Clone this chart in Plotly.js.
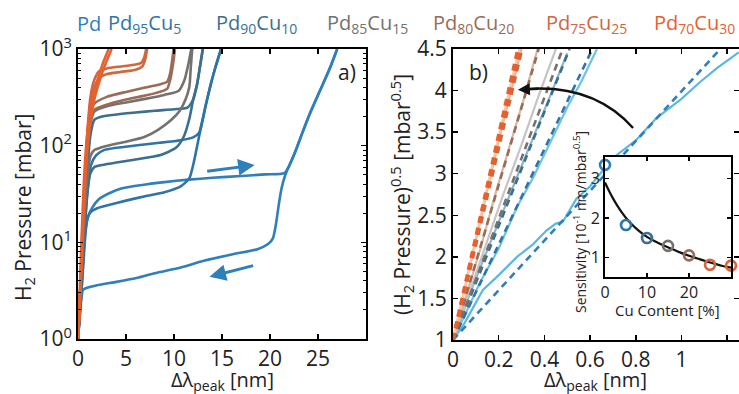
<!DOCTYPE html>
<html><head><meta charset="utf-8">
<script src="https://cdn.plot.ly/plotly-3.0.1.min.js"></script>
<style>html,body{margin:0;padding:0;background:#fff;}#chart{width:739px;height:394px;}</style>
</head><body><div id="chart"></div>
<script>
// ---------- DATA ----------
const names = ["Pd","Pd<sub>95</sub>Cu<sub>5</sub>","Pd<sub>90</sub>Cu<sub>10</sub>","Pd<sub>85</sub>Cu<sub>15</sub>","Pd<sub>80</sub>Cu<sub>20</sub>","Pd<sub>75</sub>Cu<sub>25</sub>","Pd<sub>70</sub>Cu<sub>30</sub>"];

// panel a : isotherms (x = Δλ nm, p = mbar)
const pdAbsX = [0,0.15,0.3,0.45,0.6,0.8,1.1,1.5,2.2,3.2,4.5,6.5,9,11.5,14,17,19.5,21.5,22.0,22.6,23.3,24.2,25.2,26.2,27.0];
const pdAbsP = [1,1.6,2.6,4.5,8,14,19,23,28,32,36,39,42,44.5,46.5,48.5,50.5,52,62,85,130,220,370,620,1000];
const pdDesX = [27.0,26.2,25.2,24.2,23.3,22.6,22.0,21.6,21.2,20.9,20.6,20.3,19.8,18.7,16,13,10.7,8,6.2,4,2,0.8,0.5,0.35,0.2,0.1,0];
const pdDesP = [1000,620,370,220,130,85,62,50,36,24,15,11,9.6,8.5,7.5,6.4,5.5,4.8,4.3,3.9,3.6,3.35,3.2,2.6,1.9,1.4,1];

const cu5AbsX = [0,0.15,0.3,0.5,0.7,0.95,1.35,1.9,2.7,4,6.2,8.5,10.7,12,12.6,12.9,13.3,13.8,14.3,14.9];
const cu5AbsP = [1,1.7,3,6,13,30,63,80,90,95,101,107,114,122,135,170,260,420,640,1000];
const cu5DesX = [14.9,14.3,13.8,13.3,12.9,12.5,12.1,11.6,10.7,9,7,5,3,2,1.35,1.0,0.8,0.6,0.4,0.2,0];
const cu5DesP = [1000,640,420,260,170,110,70,46,38,33,30,27,24,22.5,20.7,18,13,7,3.5,1.8,1];

const cu10AbsX = [0,0.15,0.3,0.5,0.75,1.0,1.3,1.7,2.5,4,6,8,10,11.4,12.0,12.4,12.7,13.0];
const cu10AbsP = [1,1.8,3.5,8,22,60,130,185,200,210,220,230,238,248,300,430,650,1000];
const cu10DesX = [13.0,12.7,12.4,12.0,11.6,11.0,10.2,8.6,6,4,2.5,1.7,1.3,1.0,0.7,0.45,0.25,0.1,0];
const cu10DesP = [1000,650,430,300,190,123,95,80,72,67,63,60,52,35,15,6,2.8,1.5,1];

const cu15AbsX = [0,0.15,0.3,0.5,0.75,1.0,1.3,1.7,3,5,7,9,10.5,11.1,11.5,11.8];
const cu15AbsP = [1,1.9,4,10,30,90,170,225,255,280,305,335,370,480,700,1000];
const cu15DesX = [11.9,11.75,11.6,11.2,10.6,9.7,8.3,6.9,5,3.5,2.3,1.7,1.3,1.0,0.7,0.45,0.25,0.1,0];
const cu15DesP = [1000,650,408,300,230,184,145,123,110,102,95,90,78,50,20,7,3,1.5,1];

const cu20AbsX = [0,0.15,0.3,0.5,0.75,1.0,1.3,1.7,3,5,7,8.5,9.3,9.6,9.8,9.95];
const cu20AbsP = [1,2,4.5,12,40,120,220,273,320,360,400,430,460,560,750,1000];
const cu20DesX = [10.1,9.9,9.6,9.3,8.5,7,5,3,1.7,1.3,1.0,0.75,0.5,0.3,0.15,0];
const cu20DesP = [1000,700,480,390,360,330,300,265,235,200,120,40,12,4.5,2,1];

const cu25AbsX = [0,0.15,0.3,0.5,0.75,1.0,1.3,1.7,2.2,3,4.5,6,6.6,6.9,7.1];
const cu25AbsP = [1,2,5,14,50,150,320,480,590,630,660,690,720,820,1000];
const cu25DesX = [7.2,7.0,6.7,6,4.5,3,2.2,1.7,1.3,1.0,0.75,0.5,0.3,0.15,0];
const cu25DesP = [1000,780,660,610,580,550,500,400,260,130,45,13,4.5,1.9,1];

const cu30AbsX = [0,0.12,0.25,0.4,0.6,0.85,1.15,1.5,1.9,2.3,2.7,3.2];
const cu30AbsP = [1,2,5,13,40,100,190,300,430,580,760,1000];
const cu30DesX = [3.5,3.0,2.5,2.1,1.7,1.3,1.0,0.7,0.45,0.3,0.15,0];
const cu30DesP = [1000,760,560,420,300,180,100,40,13,5,2,1];

// panel b : sqrt(P) vs Δλ  (solid = data, dashed = linear fit)
const bPdX   = [0,0.05,0.13,0.2,0.28,0.35,0.41,0.45,0.48,0.54,0.6,0.66,0.70,0.8,0.89,1.0,1.08,1.155,1.25];
const bPdY   = [1,1.2,1.6,1.78,2.0,2.15,2.32,2.40,2.42,2.70,2.85,3.05,3.19,3.4,3.67,3.9,4.1,4.27,4.46];
const bCu5X  = [0,0.06,0.12,0.2,0.28,0.35,0.42,0.5,0.56,0.63];
const bCu5Y  = [1,1.35,1.7,2.1,2.6,2.95,3.35,3.8,4.1,4.5];
const bCu10X = [0,0.08,0.16,0.25,0.33,0.42,0.5];
const bCu10Y = [1,1.6,2.15,2.75,3.3,3.9,4.45];
const bCu15X = [0,0.07,0.15,0.22,0.3,0.37,0.45];
const bCu15Y = [1,1.55,2.2,2.75,3.35,3.9,4.5];
const bCu20X = [0,0.06,0.12,0.19,0.25,0.31,0.37];
const bCu20Y = [1,1.55,2.1,2.8,3.35,3.9,4.5];
const bCu25X = [0,0.05,0.1,0.15,0.2,0.25,0.3];
const bCu25Y = [1,1.6,2.2,2.8,3.4,3.95,4.5];
const bCu30X = [0,0.05,0.1,0.15,0.2,0.25,0.29];
const bCu30Y = [1,1.62,2.25,2.85,3.45,4.05,4.5];
const fitTopX = [1.17,0.61,0.51,0.48,0.375,0.3,0.285];   // x where each fit reaches 4.5
const fitY = [1,4.5];

// inset
const cuContent = [0,5,10,15,20,25,30];
const sensitivity = [3.35,1.82,1.49,1.29,1.05,0.81,0.79];
const fitCuX = [0,1,2,3,4,5,6,8,10,12,14,16,18,20,22,24,26,28,30];
const fitCuY = [2.9,2.68,2.48,2.3,2.14,2.0,1.88,1.68,1.52,1.4,1.3,1.21,1.12,1.04,0.97,0.9,0.84,0.78,0.74];

// ---------- STYLE ----------
const cols = ["#2f7fba","#2e74a6","#3b6f8d","#75716e","#9a6b57","#d2663d","#e9602c"];
const light = ["#5cb8df","#6cc3e4","#8fb6c8","#c4c4c4","#d8b6a6","#f3b08e","#f8c7a8"];
const F = "Open Sans, Liberation Sans, sans-serif";
const W = 739, H = 394;
const fx = p => p / W, fy = p => 1 - p / H;

const traces = [];
const aSets = [[pdAbsX,pdAbsP,pdDesX,pdDesP],[cu5AbsX,cu5AbsP,cu5DesX,cu5DesP],[cu10AbsX,cu10AbsP,cu10DesX,cu10DesP],
  [cu15AbsX,cu15AbsP,cu15DesX,cu15DesP],[cu20AbsX,cu20AbsP,cu20DesX,cu20DesP],[cu25AbsX,cu25AbsP,cu25DesX,cu25DesP],[cu30AbsX,cu30AbsP,cu30DesX,cu30DesP]];
aSets.forEach((s,i)=>{
  traces.push({x:s[0],y:s[1],type:'scatter',mode:'lines',line:{color:cols[i],width:2.6,shape:'spline',smoothing:0.6},xaxis:'x',yaxis:'y'});
  traces.push({x:s[2],y:s[3],type:'scatter',mode:'lines',line:{color:cols[i],width:2.6,shape:'spline',smoothing:0.6},xaxis:'x',yaxis:'y'});
});
const bSets = [[bPdX,bPdY],[bCu5X,bCu5Y],[bCu10X,bCu10Y],[bCu15X,bCu15Y],[bCu20X,bCu20Y],[bCu25X,bCu25Y],[bCu30X,bCu30Y]];
bSets.forEach((s,i)=>{
  traces.push({x:s[0],y:s[1],type:'scatter',mode:'lines',line:{color:light[i],width:2.2},xaxis:'x2',yaxis:'y2'});
});
bSets.forEach((s,i)=>{
  traces.push({x:[0,fitTopX[i]],y:fitY,type:'scatter',mode:'lines',line:{color:cols[i],width:i>=5?4:2.6,dash:'7px,5px'},xaxis:'x2',yaxis:'y2'});
});
traces.push({x:fitCuX,y:fitCuY,type:'scatter',mode:'lines',line:{color:'#111',width:2.2,shape:'spline'},xaxis:'x3',yaxis:'y3'});
traces.push({x:cuContent,y:sensitivity,type:'scatter',mode:'markers',cliponaxis:false,
  marker:{symbol:'circle-open',size:10,color:cols,line:{width:2.6,color:cols}},xaxis:'x3',yaxis:'y3'});

const axBase = {showline:true,linecolor:'#000',linewidth:2,mirror:'ticks',ticks:'inside',ticklen:5,tickwidth:1.5,tickcolor:'#000',
  showgrid:false,zeroline:false,tickfont:{family:F,size:21,color:'#222'}};

const annotations = [];
const labX = [75,106,214,325,431,544,652];
names.forEach((n,i)=>annotations.push({xref:'paper',yref:'paper',x:fx(labX[i]),y:fy(24),xanchor:'left',yanchor:'middle',
  text:n,showarrow:false,font:{family:F,size:20,color:cols[i]}}));
function lab(x,y,text,size,angle){
  annotations.push({xref:'paper',yref:'paper',x:fx(x),y:fy(y),xanchor:'center',yanchor:'middle',text:text,textangle:angle||0,
    showarrow:false,font:{family:F,size:size,color:'#222'}});
}
lab(347,72,'a)',21);
lab(478,72,'b)',21);
lab(24,208,'H<sub>2</sub> Pressure [mbar]',21,-90);
lab(222,380,'Δλ<sub>peak</sub> [nm]',20);
lab(401,195,'(H<sub>2</sub> Pressure)<sup>0.5</sup> [mbar<sup>0.5</sup>]',21,-90);
lab(595,380,'Δλ<sub>peak</sub> [nm]',20);
lab(580,222,'Sensitivity [10<sup>-1</sup> nm/mbar<sup>0.5</sup>]',14,-90);
lab(667,310,'Cu Content [%]',15);
// arrows panel a (log axis -> log10 coordinates)
annotations.push({xref:'x',yref:'y',axref:'x',ayref:'y',x:18.4,y:Math.log10(63),ax:13.3,ay:Math.log10(54),text:'',showarrow:true,arrowhead:2,arrowsize:1.1,arrowwidth:3,arrowcolor:cols[0]});
annotations.push({xref:'x',yref:'y',axref:'x',ayref:'y',x:13.7,y:Math.log10(4.4),ax:18.4,ay:Math.log10(5.8),text:'',showarrow:true,arrowhead:2,arrowsize:1.1,arrowwidth:3,arrowcolor:cols[0]});
// curved arrow head panel b
annotations.push({xref:'x2',yref:'y2',x:0.284,y:4.01,ax:22,ay:-1,text:'',showarrow:true,arrowhead:2,arrowsize:1,arrowwidth:2.4,arrowcolor:'#111',standoff:0});

const shapes = [
  {type:'rect',xref:'x3',yref:'y3',x0:0,x1:30,y0:0.5,y1:3.55,fillcolor:'#fff',line:{width:0},layer:'below'},
  {type:'path',xref:'x2',yref:'y2',path:'M 0.788,3.55 Q 0.619,4.07 0.33,4.02',line:{color:'#111',width:2.4}}
];

const layout = {
  width:W,height:H,margin:{l:0,r:0,t:0,b:0},paper_bgcolor:'#fff',plot_bgcolor:'#fff',showlegend:false,
  font:{family:F},
  xaxis:Object.assign({},axBase,{domain:[fx(78),fx(366)],range:[0,30],tickvals:[0,5,10,15,20,25],anchor:'y'}),
  yaxis:Object.assign({},axBase,{domain:[fy(339),fy(49)],type:'log',range:[0,3],tickvals:[1,10,100,1000],
    ticktext:['10<sup>0</sup>','10<sup>1</sup>','10<sup>2</sup>','10<sup>3</sup>'],anchor:'x',
    minor:{ticks:'inside',ticklen:3,tickwidth:1,tickcolor:'#000',dtick:'D1'}}),
  xaxis2:Object.assign({},axBase,{domain:[fx(453),1],range:[0,1.2516],tickvals:[0,0.2,0.4,0.6,0.8,1,1.2],
    ticktext:['0','0.2','0.4','0.6','0.8','1','1.2'],anchor:'y2'}),
  yaxis2:Object.assign({},axBase,{domain:[fy(340),fy(49)],range:[1,4.5],tickvals:[1,1.5,2,2.5,3,3.5,4,4.5],
    ticktext:['1','1.5','2','2.5','3','3.5','4','4.5'],anchor:'x2'}),
  xaxis3:Object.assign({},axBase,{domain:[fx(605),fx(731)],range:[0,30],tickvals:[0,10,20,30],anchor:'y3',ticklen:4,
    tickfont:{family:F,size:16,color:'#222'}}),
  yaxis3:Object.assign({},axBase,{domain:[fy(277),fy(157)],range:[0.5,3.55],tickvals:[1,2,3],anchor:'x3',ticklen:4,
    tickfont:{family:F,size:16,color:'#222'}}),
  annotations:annotations,shapes:shapes
};
Plotly.newPlot('chart',traces,layout,{staticPlot:true,displayModeBar:false});
</script></body></html>
